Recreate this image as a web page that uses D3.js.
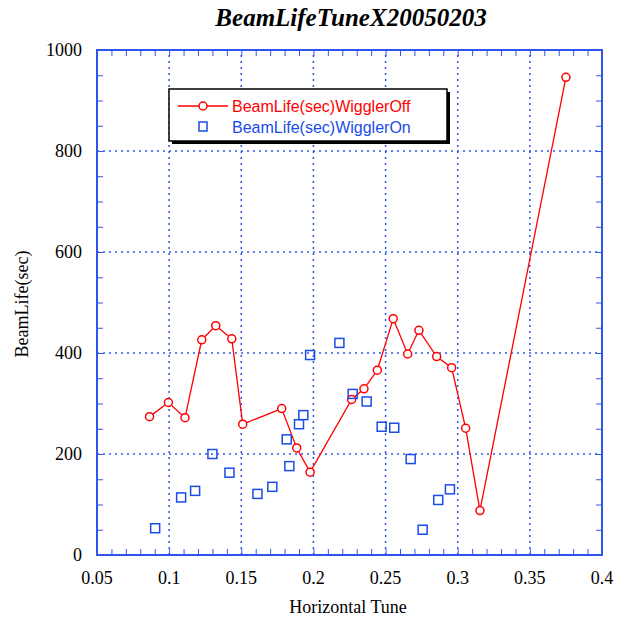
<!DOCTYPE html>
<html>
<head>
<meta charset="utf-8">
<script src="https://cdn.jsdelivr.net/npm/d3@7"></script>
<style>
  body { margin: 0; background: #fff; }
</style>
</head>
<body>
<svg id="chart" width="617" height="620"></svg>
<script>
// wiggler off (line + circles)
var offTune = [0.0864, 0.0995, 0.111, 0.1226, 0.1323, 0.1434, 0.151, 0.178, 0.1884, 0.1977,
               0.2265, 0.235, 0.2443, 0.2553, 0.2653, 0.2731, 0.2854, 0.2958, 0.3055, 0.3154, 0.375];
var offLife = [274, 302, 272, 426, 454, 428, 259, 290, 212, 164,
               308, 329, 366, 468, 398, 445, 393, 371, 251, 88, 946];
// wiggler on (squares only)
var onTune = [0.0903, 0.1083, 0.118, 0.13, 0.1418, 0.1612, 0.1715, 0.1815, 0.1833, 0.190, 0.193,
              0.1977, 0.218, 0.2272, 0.2369, 0.2473, 0.256, 0.2674, 0.2757, 0.2865, 0.2946];
var onLife = [53, 114, 127, 200, 163, 121, 135, 229, 176, 259, 277,
              396, 420, 319, 304, 254, 252, 190, 50, 109, 130];
var xTicks = [0.05, 0.1, 0.15, 0.2, 0.25, 0.3, 0.35, 0.4];
var yTicks = [0, 200, 400, 600, 800, 1000];

var blue = "#2f55ee";
var serif = "Liberation Serif, Times New Roman, serif";

var svg = d3.select("#chart");

var x = d3.scaleLinear().domain([0.05, 0.4]).range([97, 602]);
var y = d3.scaleLinear().domain([0, 1000]).range([555, 50]);

var offData = offTune.map(function(t, i) { return {t: t, v: offLife[i]}; });
var onData = onTune.map(function(t, i) { return {t: t, v: onLife[i]}; });

// grid
svg.append("g").selectAll("line").data(xTicks.slice(1, -1)).enter().append("line")
   .attr("x1", d => x(d)).attr("x2", d => x(d))
   .attr("y1", y(0)).attr("y2", y(1000))
   .attr("stroke", blue).attr("stroke-width", 1.5).attr("stroke-dasharray", "2,4");
svg.append("g").selectAll("line").data(yTicks.slice(1, -1)).enter().append("line")
   .attr("y1", d => y(d)).attr("y2", d => y(d))
   .attr("x1", x(0.05)).attr("x2", x(0.4))
   .attr("stroke", blue).attr("stroke-width", 1.5).attr("stroke-dasharray", "2,4");

// inward ticks on all four sides
var xMinor = d3.range(0.05, 0.4001, 0.01);
var yMinor = d3.range(0, 1001, 50);
svg.append("g")
   .attr("transform", "translate(0," + y(0) + ")")
   .call(d3.axisBottom(x).tickValues(xMinor).tickSize(-6).tickFormat(""))
   .call(g => g.select(".domain").remove())
   .selectAll("line").attr("stroke", blue);
svg.append("g")
   .attr("transform", "translate(0," + y(1000) + ")")
   .call(d3.axisTop(x).tickValues(xMinor).tickSize(-6).tickFormat(""))
   .call(g => g.select(".domain").remove())
   .selectAll("line").attr("stroke", blue);
svg.append("g")
   .attr("transform", "translate(" + x(0.05) + ",0)")
   .call(d3.axisLeft(y).tickValues(yMinor).tickSize(-6).tickFormat(""))
   .call(g => g.select(".domain").remove())
   .selectAll("line").attr("stroke", blue);
svg.append("g")
   .attr("transform", "translate(" + x(0.4) + ",0)")
   .call(d3.axisRight(y).tickValues(yMinor).tickSize(-6).tickFormat(""))
   .call(g => g.select(".domain").remove())
   .selectAll("line").attr("stroke", blue);

// frame
svg.append("rect")
   .attr("x", x(0.05)).attr("y", y(1000))
   .attr("width", x(0.4) - x(0.05)).attr("height", y(0) - y(1000))
   .attr("fill", "none").attr("stroke", blue).attr("stroke-width", 2);

// tick labels
svg.append("g").selectAll("text").data(xTicks).enter().append("text")
   .attr("x", d => x(d)).attr("y", 584)
   .attr("text-anchor", "middle")
   .attr("font-family", serif).attr("font-size", 18)
   .text(d => d);
svg.append("g").selectAll("text").data(yTicks).enter().append("text")
   .attr("x", 82).attr("y", d => y(d) + 6)
   .attr("text-anchor", "end")
   .attr("font-family", serif).attr("font-size", 18)
   .text(d => d);

// axis titles
svg.append("text")
   .attr("x", 348).attr("y", 613)
   .attr("text-anchor", "middle")
   .attr("font-family", serif).attr("font-size", 18)
   .text("Horizontal Tune");
svg.append("text")
   .attr("transform", "translate(28,304) rotate(-90)")
   .attr("text-anchor", "middle")
   .attr("font-family", serif).attr("font-size", 18)
   .text("BeamLife(sec)");
svg.append("text")
   .attr("x", 351).attr("y", 26)
   .attr("text-anchor", "middle")
   .attr("font-family", serif).attr("font-size", 25)
   .attr("font-weight", "bold").attr("font-style", "italic")
   .text("BeamLifeTuneX20050203");

// series: wiggler off
var line = d3.line().x(d => x(d.t)).y(d => y(d.v));
svg.append("path")
   .datum(offData)
   .attr("d", line)
   .attr("fill", "none")
   .attr("stroke", "#f00")
   .attr("stroke-width", 1.3);
svg.selectAll("off-circle")
   .data(offData)
   .enter().append("circle")
   .attr("cx", d => x(d.t)).attr("cy", d => y(d.v))
   .attr("r", 4)
   .attr("fill", "#fff").attr("stroke", "#f00").attr("stroke-width", 1.5);

// series: wiggler on
svg.selectAll("on-square")
   .data(onData)
   .enter().append("rect")
   .attr("x", d => x(d.t) - 4.5).attr("y", d => y(d.v) - 4.5)
   .attr("width", 9).attr("height", 9)
   .attr("fill", "none").attr("stroke", "#1a4ce8").attr("stroke-width", 1.5);

// legend
var lg = svg.append("g");
lg.append("rect").attr("x", 172).attr("y", 92).attr("width", 278).attr("height", 52).attr("fill", "#000");
lg.append("rect").attr("x", 169).attr("y", 89).attr("width", 278).attr("height", 52)
  .attr("fill", "#fff").attr("stroke", "#000").attr("stroke-width", 1.5);
lg.append("line").attr("x1", 178).attr("x2", 228).attr("y1", 106).attr("y2", 106)
  .attr("stroke", "#f00").attr("stroke-width", 1.3);
lg.append("circle").attr("cx", 203).attr("cy", 106).attr("r", 4)
  .attr("fill", "#fff").attr("stroke", "#f00").attr("stroke-width", 1.5);
lg.append("rect").attr("x", 199).attr("y", 122).attr("width", 8).attr("height", 9)
  .attr("fill", "none").attr("stroke", "#1a4ce8").attr("stroke-width", 1.5);
lg.append("text").attr("x", 232).attr("y", 112)
  .attr("font-family", "Liberation Sans, Arial, sans-serif").attr("font-size", 16)
  .attr("fill", "#f00").text("BeamLife(sec)WigglerOff");
lg.append("text").attr("x", 232).attr("y", 133)
  .attr("font-family", "Liberation Sans, Arial, sans-serif").attr("font-size", 16)
  .attr("fill", "#1a4ce8").text("BeamLife(sec)WigglerOn");
</script>
</body>
</html>
